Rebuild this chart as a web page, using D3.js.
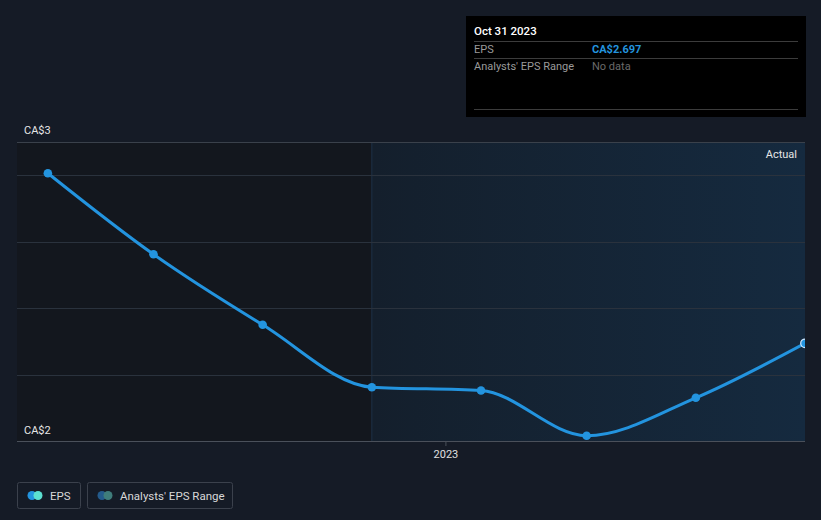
<!DOCTYPE html>
<html><head><meta charset="utf-8">
<script src="https://cdn.jsdelivr.net/npm/d3@7"></script>
<style>
html,body{margin:0;padding:0;background:#151b26;}
svg{display:block;font-family:Roboto,"Noto Sans",sans-serif;}
</style></head>
<body>
<svg id="chart" width="821" height="520"></svg>
<script>
const dates = ["2022-01-31","2022-04-30","2022-07-31","2022-10-31","2023-01-31","2023-04-30","2023-07-31","2023-10-31"];
const epsValues = [2.953, 2.831, 2.725, 2.631, 2.626, 2.558, 2.615, 2.697];
const gridValues = [2.65, 2.75, 2.85, 2.95];
const yLabels = ["CA$3", "CA$2"];
const xTickDates = ["2023-01-01"];
const xTickLabels = ["2023"];
const tooltipDate = "Oct 31 2023";
const tooltipValue = "CA$2.697";
const actualStart = "2022-10-31";

const parse = d3.utcParse("%Y-%m-%d");
const data = dates.map((d,i)=>({date:parse(d), v:epsValues[i]}));
const svg = d3.select("#chart");
const L=17, R=805, T=142, B=441;

const x = d3.scaleUtc().domain([parse("2022-01-05"), parse("2023-10-31")]).range([L,R]);
const y = d3.scaleLinear().domain([2.55, 3.0]).range([B,T]);

const defs = svg.append("defs");
const g1 = defs.append("linearGradient").attr("id","actGrad").attr("x1","0").attr("x2","1").attr("y1","0").attr("y2","0");
g1.append("stop").attr("offset","0%").attr("stop-color","#141f2c");
g1.append("stop").attr("offset","100%").attr("stop-color","#152a3f");
defs.append("clipPath").attr("id","plotClip").append("rect").attr("x",0).attr("y",0).attr("width",R).attr("height",520);

// past region (darker)
svg.append("rect").attr("x",L).attr("y",T).attr("width",x(parse(actualStart))-L).attr("height",B-T).attr("fill","#13171e");
// actual region
svg.append("rect").attr("x",x(parse(actualStart))).attr("y",T).attr("width",R-x(parse(actualStart))).attr("height",B-T).attr("fill","url(#actGrad)");
svg.append("line").attr("x1",x(parse(actualStart))).attr("x2",x(parse(actualStart))).attr("y1",T).attr("y2",B).attr("stroke","#1e3248").attr("stroke-width",1);

// gridlines
svg.append("g").selectAll("line").data(gridValues).join("line")
  .attr("x1",L).attr("x2",R).attr("y1",d=>Math.round(y(d))+0.5).attr("y2",d=>Math.round(y(d))+0.5)
  .attr("stroke","#2a323d").attr("stroke-width",1);
svg.append("line").attr("x1",L).attr("x2",R).attr("y1",T+0.5).attr("y2",T+0.5).attr("stroke","#3a414b");

// x axis
const xAxis = d3.axisBottom(x).tickValues(xTickDates.map(parse)).tickFormat((d,i)=>xTickLabels[i]).tickSize(5).tickPadding(4);
const ax = svg.append("g").attr("transform",`translate(0,${B})`).call(xAxis);
ax.select(".domain").attr("stroke","#4a505a").attr("d",`M${L},0.5H${R}`);
ax.selectAll(".tick line").attr("stroke","#4a505a");
ax.selectAll(".tick text").attr("fill","#e0e0e0").attr("font-size",11).attr("font-family","Roboto,sans-serif");

// y labels
svg.append("text").attr("x",24).attr("y",134).attr("fill","#e6e6e6").attr("font-size",11).text(yLabels[0]);
svg.append("text").attr("x",24).attr("y",434).attr("fill","#e6e6e6").attr("font-size",11).text(yLabels[1]);

// Actual label
svg.append("text").attr("x",797).attr("y",158).attr("text-anchor","end").attr("fill","#e6e6e6").attr("font-size",11).text("Actual");

// line
const plot = svg.append("g").attr("clip-path","url(#plotClip)");
const line = d3.line().x(d=>x(d.date)).y(d=>y(d.v)).curve(d3.curveMonotoneX);
plot.append("path").datum(data).attr("d",line).attr("fill","none").attr("stroke","#2394df").attr("stroke-width",3);
plot.append("g").selectAll("circle").data(data).join("circle")
  .attr("cx",d=>x(d.date)).attr("cy",d=>y(d.v)).attr("r",4.3)
  .attr("fill","#2394df")
  .attr("stroke",(d,i)=>i===data.length-1?"#cfe8ff":"none").attr("stroke-width",1.2);

// tooltip
const tt = svg.append("g").attr("transform","translate(466,16)");
tt.append("rect").attr("width",340).attr("height",101).attr("fill","#000");
tt.append("text").attr("x",8).attr("y",19).attr("fill","#fff").attr("font-size",11.5).attr("font-weight",500).text(tooltipDate);
[25,42,93].forEach(yy=>tt.append("line").attr("x1",8).attr("x2",332).attr("y1",yy+0.5).attr("y2",yy+0.5).attr("stroke","#3c3c3c"));
tt.append("text").attr("x",8).attr("y",37).attr("fill","#9a9a9a").attr("font-size",11).text("EPS");
tt.append("text").attr("x",126).attr("y",37).attr("fill","#2394df").attr("font-size",11).attr("font-weight",700).text(tooltipValue);
tt.append("text").attr("x",8).attr("y",54).attr("fill","#9a9a9a").attr("font-size",11).text("Analysts' EPS Range");
tt.append("text").attr("x",126).attr("y",54).attr("fill","#6a6a6a").attr("font-size",11).text("No data");

// legend
const legend = [
  {x:17,w:64,label:"EPS",c1:"#2394df",c2:"#5ce0d0"},
  {x:87,w:146,label:"Analysts' EPS Range",c1:"#245b8c",c2:"#3f7d7b"}
];
const lg = svg.append("g").selectAll("g").data(legend).join("g").attr("transform",d=>`translate(${d.x},482)`);
lg.append("rect").attr("x",0.5).attr("y",0.5).attr("width",d=>d.w-1).attr("height",26).attr("rx",2).attr("fill","none").attr("stroke","#3b414c");
lg.append("circle").attr("cx",15).attr("cy",13.5).attr("r",4.5).attr("fill",d=>d.c1);
lg.append("circle").attr("cx",21).attr("cy",13.5).attr("r",4.5).attr("fill",d=>d.c2);
lg.append("text").attr("x",33).attr("y",17.5).attr("fill","#d8d8d8").attr("font-size",11.5).text(d=>d.label);
</script>
</body></html>
